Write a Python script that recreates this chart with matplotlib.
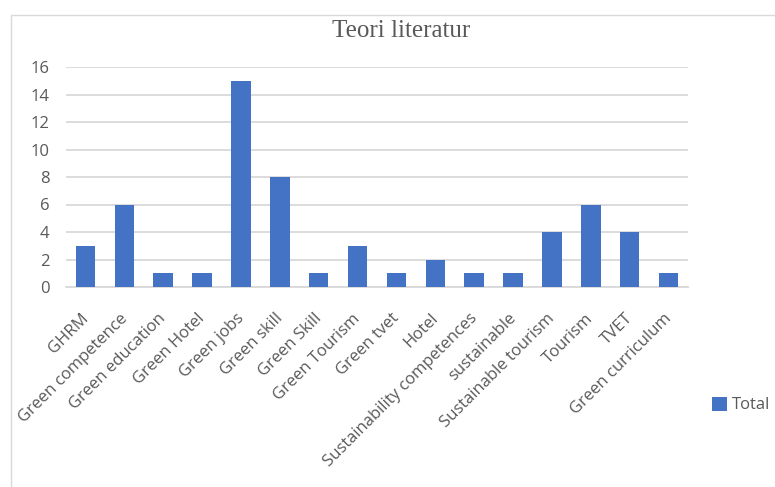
import matplotlib.pyplot as plt
from matplotlib.patches import Rectangle
from matplotlib.transforms import ScaledTranslation

# --- data ---
categories = ["GHRM", "Green competence", "Green education", "Green Hotel",
              "Green jobs", "Green skill", "Green Skill", "Green Tourism",
              "Green tvet", "Hotel", "Sustainability competences", "sustainable",
              "Sustainable tourism", "Tourism", "TVET", "Green curriculum"]
totals = [3, 6, 1, 1, 15, 8, 1, 3, 1, 2, 1, 1, 4, 6, 4, 1]
y_ticks = [0, 2, 4, 6, 8, 10, 12, 14, 16]

bar_color = "#4472C4"
text_color = "#595959"
grid_color = "#d9d9d9"

W, H = 775, 487
fig = plt.figure(figsize=(W / 100, H / 100), dpi=100)
ax = fig.add_axes([66 / W, 1 - 287 / H, (688 - 66) / W, (287 - 67) / H])

x = range(len(categories))
ax.bar(x, totals, width=0.5, color=bar_color, label="Total", zorder=3)

ax.set_xlim(-0.5, len(categories) - 0.5)
ax.set_ylim(0, 16)
ax.set_yticks(y_ticks)
ax.yaxis.grid(True, color=grid_color, linewidth=1.3, zorder=0)
for s in ["top", "right", "left"]:
    ax.spines[s].set_visible(False)
ax.spines["bottom"].set_color(grid_color)
ax.spines["bottom"].set_linewidth(1.3)
ax.tick_params(axis="y", length=0, labelsize=12, colors=text_color, pad=12)
ax.tick_params(axis="x", length=0, labelsize=12, colors=text_color, pad=21)

ax.set_xticks(list(x))
ax.set_xticklabels(categories, rotation=45, ha="right", va="center",
                   rotation_mode="anchor", family="Open Sans")
shift = ScaledTranslation(0.5 / 100, 0, fig.dpi_scale_trans)
for lbl in ax.get_xticklabels():
    lbl.set_transform(lbl.get_transform() + shift)
for lbl in ax.get_yticklabels():
    lbl.set_family("Open Sans")

fig.text(401 / W, 1 - 31 / H, "Teori literatur", ha="center", va="center",
         fontsize=18, family="Liberation Serif", color="#595959")

leg = fig.legend(loc="center left", bbox_to_anchor=(697 / W, 1 - 405 / H),
                 frameon=False, handlelength=0.9, handleheight=0.9,
                 handletextpad=0.3, prop={"family": "Open Sans", "size": 12})
for t in leg.get_texts():
    t.set_color(text_color)

# chart area border
fig.patches.append(Rectangle((10.5 / W, -0.1), 1.0, 1.1 - 14.5 / H,
                             transform=fig.transFigure, fill=False,
                             edgecolor=grid_color, linewidth=1.0))

fig.savefig("out.png", dpi=100)
